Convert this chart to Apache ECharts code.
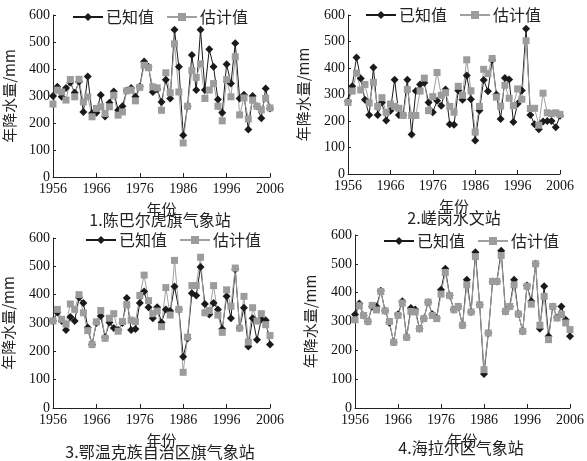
<!DOCTYPE html>
<html>
<head>
<meta charset="utf-8">
<script src="https://cdn.jsdelivr.net/npm/echarts@6/dist/echarts.min.js"></script>
<style>
  html, body { margin: 0; padding: 0; background: #fff; }
  #chart { width: 587px; height: 461px; }
</style>
</head>
<body>
<div id="chart"></div>
<script>
// 年份 1956-2006
var years = [];
for (var y = 1956; y <= 2006; y++) years.push(String(y));

var stationNames = ['1.陈巴尔虎旗气象站', '2.嵯岗水文站', '3.鄂温克族自治区旗气象站', '4.海拉尔区气象站'];
var seriesNames = ['已知值', '估计值'];

// 1.陈巴尔虎旗气象站
var known1 = [300, 334, 297, 330, 350, 312, 353, 241, 372, 236, 238, 304, 224, 275, 317, 247, 262, 320, 330, 297,
  335, 428, 408, 315, 325, 278, 360, 291, 545, 408, 155, 262, 452, 322, 545, 322, 473, 408, 287, 238,
  418, 346, 495, 291, 305, 176, 300, 262, 218, 328, 254];
var est1 = [270, 322, 315, 285, 361, 297, 362, 278, 297, 223, 254, 260, 235, 260, 303, 229, 241, 319, 322, 282,
  332, 414, 405, 334, 330, 247, 386, 312, 493, 315, 126, 262, 394, 369, 419, 291, 322, 346, 262, 208,
  361, 297, 445, 230, 293, 215, 285, 262, 249, 291, 256];

// 2.嵯岗水文站
var known2 = [275, 331, 440, 360, 280, 223, 402, 223, 270, 202, 239, 356, 223, 223, 356, 149, 313, 338, 344, 270,
  233, 276, 258, 319, 188, 186, 315, 280, 372, 282, 126, 240, 355, 312, 430, 300, 208, 362, 357, 196,
  265, 315, 548, 223, 188, 169, 198, 200, 200, 176, 220];
var est2 = [270, 313, 381, 317, 338, 268, 346, 255, 288, 233, 264, 255, 248, 221, 319, 221, 221, 313, 362, 239,
  292, 383, 297, 307, 255, 233, 331, 297, 431, 314, 158, 255, 395, 379, 436, 290, 256, 335, 286, 258,
  321, 282, 503, 247, 248, 184, 305, 231, 228, 231, 225];

// 3.鄂温克族自治区旗气象站
var known3 = [307, 337, 307, 275, 321, 307, 390, 371, 284, 224, 300, 325, 250, 302, 282, 275, 300, 388, 275, 279,
  371, 411, 356, 317, 356, 302, 348, 342, 429, 348, 181, 245, 405, 397, 498, 367, 330, 371, 348, 279,
  394, 317, 490, 282, 354, 217, 317, 241, 313, 310, 224];
var est3 = [307, 348, 313, 296, 367, 348, 400, 336, 273, 224, 304, 344, 246, 317, 333, 271, 305, 365, 310, 305,
  397, 469, 379, 333, 342, 287, 425, 328, 521, 348, 126, 250, 432, 432, 532, 336, 344, 432, 328, 267,
  417, 359, 494, 282, 394, 233, 354, 307, 333, 294, 256];

// 4.海拉尔区气象站
var known4 = [324, 362, 321, 300, 352, 352, 407, 337, 296, 228, 325, 370, 245, 347, 342, 275, 310, 367, 325, 312,
  410, 483, 390, 341, 352, 287, 445, 333, 540, 358, 118, 260, 439, 439, 545, 335, 352, 445, 326, 266,
  425, 370, 500, 275, 422, 249, 352, 314, 352, 306, 249];
var est4 = [306, 355, 321, 300, 356, 340, 404, 337, 300, 228, 321, 364, 245, 335, 333, 275, 310, 367, 321, 310,
  395, 470, 390, 341, 352, 287, 427, 333, 525, 358, 133, 260, 439, 439, 529, 335, 352, 427, 326, 266,
  422, 360, 500, 287, 387, 237, 352, 312, 324, 295, 272];

var knownData = [known1, known2, known3, known4];
var estData = [est1, est2, est3, est4];

// 布局
var grids = [
  { left: 53, top: 15, width: 217, height: 162 },
  { left: 348, top: 15, width: 212, height: 159 },
  { left: 53, top: 238, width: 217, height: 170 },
  { left: 355, top: 235, width: 215, height: 173 }
];
var legendPos = [
  { left: 72, top: 9 },
  { left: 365, top: 7 },
  { left: 85, top: 232 },
  { left: 383, top: 233 }
];
var titlePos = [[160, 220], [454, 218], [160, 452], [461, 448]];
var yNameGap = [36, 37, 37, 37];

var serif = '"Liberation Serif", "Times New Roman", serif';
var cjk = '"Noto Sans CJK SC", sans-serif';

var option = {
  backgroundColor: '#fff',
  animation: false,
  grid: [],
  legend: [],
  xAxis: [],
  yAxis: [],
  series: [],
  graphic: []
};

for (var i = 0; i < 4; i++) {
  var g = grids[i];
  option.grid.push({
    left: g.left, top: g.top, width: g.width, height: g.height,
    containLabel: false,
    outerBoundsMode: 'none'
  });
  option.legend.push({
    data: seriesNames,
    left: legendPos[i].left,
    top: legendPos[i].top,
    itemWidth: 30,
    itemHeight: 10,
    itemGap: 12,
    selectedMode: false,
    padding: 0,
    textStyle: { fontFamily: cjk, fontSize: 16, color: '#222', padding: [0, 0, 0, -2] }
  });
  option.xAxis.push({
    type: 'category',
    gridIndex: i,
    data: years,
    boundaryGap: false,
    name: '年份',
    nameLocation: 'middle',
    nameGap: 25,
    nameTextStyle: { fontFamily: cjk, fontSize: 15, color: '#222' },
    axisLine: { lineStyle: { color: '#222', width: 1 } },
    axisTick: { inside: true, length: 4, interval: 9, lineStyle: { color: '#222' } },
    axisLabel: { interval: 9, margin: 5, fontFamily: serif, fontSize: 14, color: '#111' },
    splitLine: { show: false }
  });
  option.yAxis.push({
    type: 'value',
    gridIndex: i,
    min: 0,
    max: 600,
    interval: 100,
    name: '年降水量/mm',
    nameLocation: 'middle',
    nameGap: yNameGap[i],
    nameTextStyle: { fontFamily: cjk, fontSize: 15, color: '#222' },
    axisLine: { show: true, lineStyle: { color: '#222', width: 1 } },
    axisTick: { show: true, inside: true, length: 3, lineStyle: { color: '#222' } },
    axisLabel: { margin: 3, fontFamily: serif, fontSize: 14, color: '#111' },
    splitLine: { show: false }
  });
  option.series.push({
    name: seriesNames[0],
    type: 'line',
    xAxisIndex: i,
    yAxisIndex: i,
    data: knownData[i],
    symbol: 'diamond',
    symbolSize: 8,
    showAllSymbol: true,
    lineStyle: { color: '#1a1a1a', width: 1 },
    itemStyle: { color: '#1a1a1a' }
  });
  option.series.push({
    name: seriesNames[1],
    type: 'line',
    xAxisIndex: i,
    yAxisIndex: i,
    data: estData[i],
    symbol: 'rect',
    symbolSize: 7,
    showAllSymbol: true,
    lineStyle: { color: '#a0a0a0', width: 1 },
    itemStyle: { color: '#9c9c9c' }
  });
  option.graphic.push({
    type: 'text',
    x: titlePos[i][0],
    y: titlePos[i][1],
    style: {
      text: stationNames[i],
      font: '16px ' + cjk,
      fill: '#222',
      textAlign: 'center',
      textVerticalAlign: 'middle'
    }
  });
}

var myChart = echarts.init(document.getElementById('chart'));
myChart.setOption(option);
</script>
</body>
</html>
